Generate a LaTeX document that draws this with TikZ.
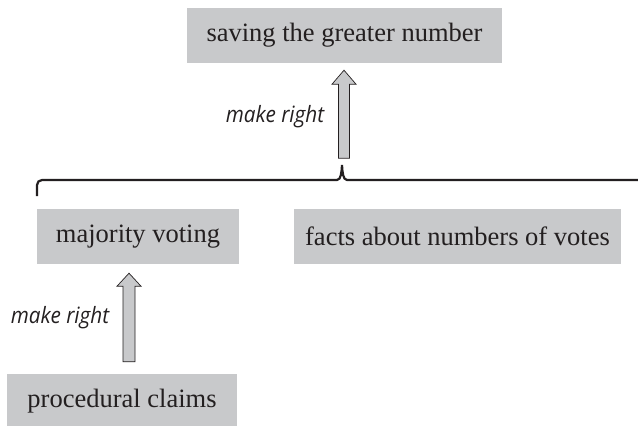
\documentclass[tikz,border=0pt]{standalone}
\usepackage{fontspec}
\setmainfont{Liberation Serif}
\newfontfamily\labelfont[FakeStretch=0.92]{Open Sans}
\usetikzlibrary{calc}
\definecolor{boxgray}{RGB}{200,201,203}
\definecolor{inkc}{RGB}{35,31,32}
\begin{document}
\begin{tikzpicture}[x=1pt,y=-1pt,
  box/.style={fill=boxgray, text=inkc, font=\fontsize{26.5}{30}\selectfont, inner sep=0pt, minimum height=55pt},
  lbl/.style={text=inkc, font=\labelfont\itshape\fontsize{22.5}{26}\selectfont, inner sep=0pt},
  blockarrow/.style={draw=inkc, fill=boxgray, line width=0.7pt, line join=miter},
  bracestyle/.style={draw=inkc, line width=2.2pt}]
\useasboundingbox (0,0) rectangle (638,426);
\node[box, minimum width=315pt] (top) at (344.5,35.5) {saving the greater number};
\node[box, minimum width=202pt] (maj) at (138,236.5) {majority voting};
\node[box, minimum width=327pt] (facts) at (457.5,236.5) {facts about numbers of votes};
\node[box, minimum width=230pt] (proc) at (122,401.5) {procedural claims};
% brace
\coordinate (bl) at (37,196);
\coordinate (btip) at (342,165);
\coordinate (br) at (645,180);
\draw[bracestyle] (bl) [rounded corners=5pt] -- (bl |- br) [sharp corners] -- ($(btip |- br)+(-5,0)$)
  .. controls ($(btip |- br)+(-1,0)$) and ($(btip)+(-0.4,7)$) .. (btip)
  .. controls ($(btip)+(0.4,7)$) and ($(btip |- br)+(1,0)$) .. ($(btip |- br)+(5,0)$) -- (br);
% top arrow
\coordinate (ta) at ($(top.south)+(-0.5,7)$);
\coordinate (tb) at ($(ta)+(0,88)$);
\draw[blockarrow] (ta) -- ($(ta)+(12,14)$) -- ($(ta)+(5.5,14)$) -- ($(tb)+(5.5,0)$) -- ($(tb)+(-5.5,0)$) -- ($(ta)+(-5.5,14)$) -- ($(ta)+(-12,14)$) -- cycle;
% lower arrow
\coordinate (la) at ($(maj.south)+(-9,9)$);
\coordinate (lb) at ($(proc.north)+(7,-12)$);
\draw[blockarrow] (la) -- ($(la)+(12,13)$) -- ($(la)+(6,13)$) -- ($(la |- lb)+(6,0)$) -- ($(la |- lb)+(-6,0)$) -- ($(la)+(-6,13)$) -- ($(la)+(-12,13)$) -- cycle;
% labels
\node[lbl] (l1) at (275,117) {make right};
\node[lbl] (l2) at (60,318) {make right};
\end{tikzpicture}
\end{document}
